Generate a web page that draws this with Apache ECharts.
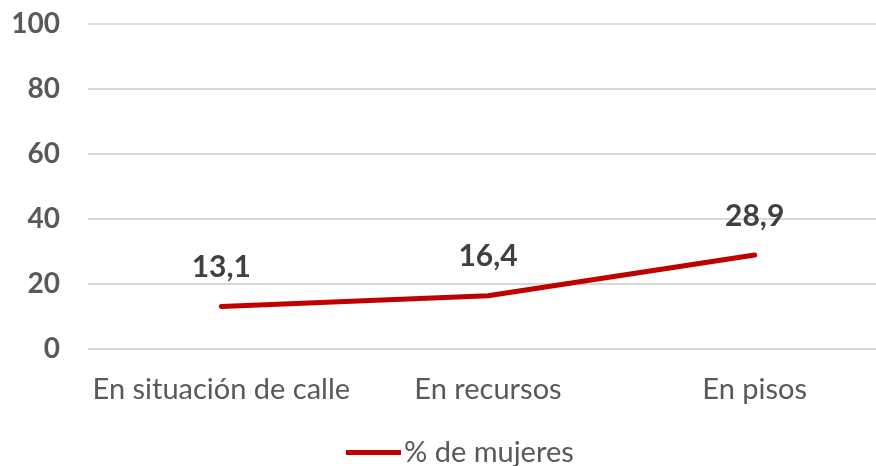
<!DOCTYPE html>
<html>
<head>
<meta charset="utf-8">
<script src="https://cdn.jsdelivr.net/npm/echarts@6/dist/echarts.min.js"></script>
<style>
  html, body { margin: 0; padding: 0; background: #fff; }
  #main { width: 876px; height: 466px; }
</style>
</head>
<body>
<div id="main"></div>
<script>
const categories = ['En situación de calle', 'En recursos', 'En pisos']
const values = [13.1, 16.4, 28.9]
const seriesName = '% de mujeres'

const chart = echarts.init(document.getElementById('main'))
const font = 'Lato'

var option = {
  backgroundColor: '#ffffff',
  animation: false,
  grid: {
    left: 88,
    width: 800,
    top: 24,
    bottom: 117,
    outerBoundsMode: 'none'
  },
  legend: {
    data: [{name: seriesName, icon: 'path://M0,0 L55,0 L55,5 L0,5 Z'}],
    left: 341,
    top: 433,
    itemWidth: 55,
    itemHeight: 5,
    itemGap: 10,
    textStyle: {
      fontFamily: font,
      fontSize: 29,
      color: '#595959',
      padding: [0, 0, 0, -2]
    }
  },
  xAxis: {
    type: 'category',
    data: categories,
    axisLine: {show: false},
    axisTick: {show: false},
    axisLabel: {
      interval: 0,
      fontFamily: font,
      fontSize: 29,
      color: '#595959',
      margin: 26
    }
  },
  yAxis: {
    type: 'value',
    min: 0,
    max: 100,
    interval: 20,
    axisLine: {show: false},
    axisTick: {show: false},
    splitLine: {
      lineStyle: {color: '#d9d9d9', width: 2}
    },
    axisLabel: {
      fontFamily: font,
      fontSize: 28,
      fontWeight: 'bold',
      color: '#595959',
      margin: 28
    }
  },
  series: [{
    name: seriesName,
    type: 'line',
    data: values,
    symbol: 'circle',
    symbolSize: 0,
    showSymbol: true,
    itemStyle: {color: '#c00000'},
    lineStyle: {color: '#c00000', width: 5, cap: 'round'},
    label: {
      show: true,
      position: 'top',
      distance: 24,
      fontFamily: font,
      fontSize: 30,
      fontWeight: 'bold',
      color: '#404040',
      formatter: p => String(p.value).replace('.', ',')
    }
  }]
}

chart.setOption(option)
</script>
</body>
</html>
